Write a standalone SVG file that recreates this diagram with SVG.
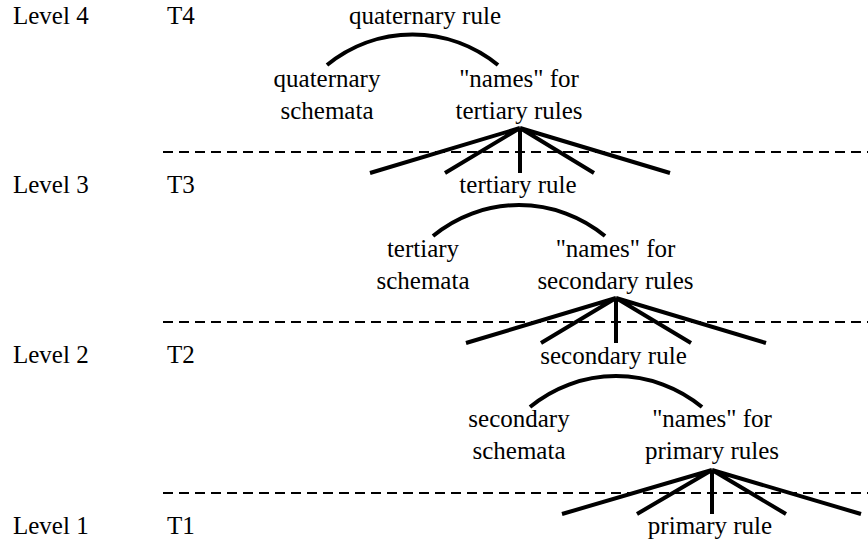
<svg xmlns="http://www.w3.org/2000/svg" width="868" height="544" viewBox="0 0 868 544">
<style>
text{font-family:'Liberation Serif','DejaVu Serif',serif;font-size:25px;fill:#000}
.c{text-anchor:middle}
.dash{stroke:#000;stroke-width:2;stroke-dasharray:10 6;fill:none}
.conn{stroke:#000;stroke-width:4;fill:none;stroke-linecap:butt}
</style>
<rect width="868" height="544" fill="#fff"/>
<g id="levels" font-family="Liberation Serif, serif">
<text x="13" y="24">Level 4</text><text x="167" y="24">T4</text>
<text x="13" y="193">Level 3</text><text x="167" y="193">T3</text>
<text x="13" y="363">Level 2</text><text x="167" y="363">T2</text>
<text x="13" y="534">Level 1</text><text x="167" y="534">T1</text>
</g>
<g id="dividers">
<line class="dash" x1="163" y1="152" x2="868" y2="152"/>
<line class="dash" x1="163" y1="322" x2="868" y2="322"/>
<line class="dash" x1="163" y1="493" x2="868" y2="493"/>
</g>
<g id="connectors">
<path class="conn" d="M327,65 A135,135 0 0 1 498,65"/>
<path class="conn" d="M520,128 L370,173 M520,128 L445,173 M520,128 L520,173 M520,128 L594,173 M520,128 L670,173"/>
<path class="conn" d="M433,236 A135,135 0 0 1 605,236"/>
<path class="conn" d="M616,298 L466,343 M616,298 L541,343 M616,298 L616,343 M616,298 L691,343 M616,298 L766,343"/>
<path class="conn" d="M530,407 A135,135 0 0 1 702,407"/>
<path class="conn" d="M712,470 L562,514 M712,470 L637,514 M712,470 L712,514 M712,470 L786,514 M712,470 L861,514"/>
</g>
<g id="quaternary-rule"><text class="c" x="425" y="24">quaternary rule</text></g>
<g id="quaternary-schemata"><text class="c" x="327" y="87">quaternary</text><text class="c" x="327" y="119">schemata</text></g>
<g id="names-tertiary"><text class="c" x="519" y="87">"names" for</text><text class="c" x="519" y="119">tertiary rules</text></g>
<g id="tertiary-rule"><text class="c" x="518" y="193">tertiary rule</text></g>
<g id="tertiary-schemata"><text class="c" x="423" y="257">tertiary</text><text class="c" x="423" y="289">schemata</text></g>
<g id="names-secondary"><text class="c" x="615.5" y="257">"names" for</text><text class="c" x="615.5" y="289">secondary rules</text></g>
<g id="secondary-rule"><text class="c" x="613.5" y="364">secondary rule</text></g>
<g id="secondary-schemata"><text class="c" x="519" y="427">secondary</text><text class="c" x="519" y="459">schemata</text></g>
<g id="names-primary"><text class="c" x="712" y="427">"names" for</text><text class="c" x="712" y="459">primary rules</text></g>
<g id="primary-rule"><text class="c" x="710" y="534">primary rule</text></g>
</svg>
